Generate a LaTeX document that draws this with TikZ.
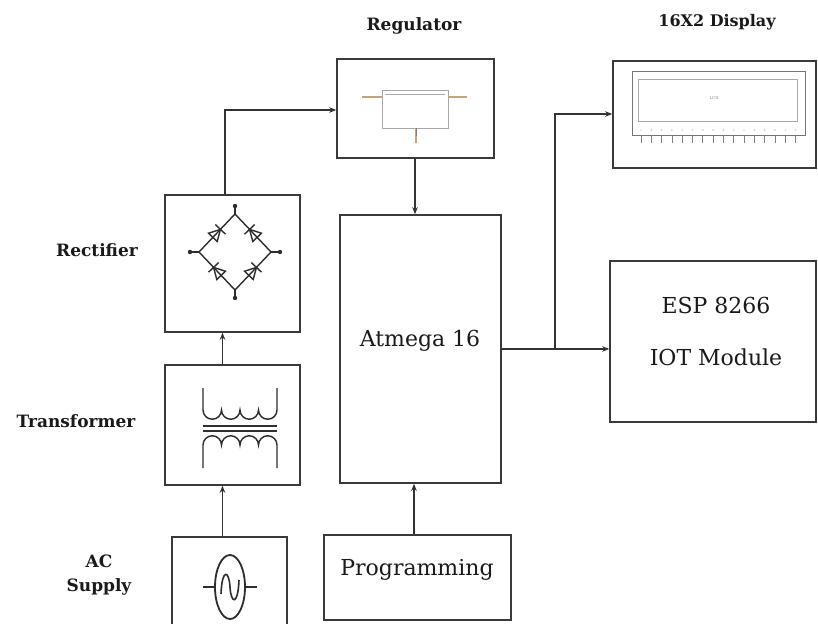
\documentclass[tikz,border=0pt]{standalone}
\usepackage{fontspec}
\setmainfont{DejaVu Serif}
\usetikzlibrary{arrows.meta,calc}
\definecolor{boxc}{HTML}{3A3A3A}
\definecolor{linec}{HTML}{333333}
\definecolor{txtc}{HTML}{1A1A1A}
\definecolor{symc}{HTML}{2E2E2E}
\definecolor{regc}{HTML}{A8A8A8}
\definecolor{leadc}{HTML}{C9A27C}
\newcommand\bdiode[2]{\begin{scope}[shift={#1},rotate=#2,x=1pt,y=1pt]
\draw[sym] (-6,6)--(5,0)--(-6,-6)--cycle; \draw[sym] (5,7)--(5,-7);
\end{scope}}
\begin{document}
\begin{tikzpicture}[x=1pt,y=-1pt,
  blk/.style={draw=boxc, line width=1.6pt, rectangle, inner sep=0pt},
  conn/.style={draw=linec, line width=1.3pt},
  arr/.style={conn, -{Stealth[length=7pt,width=5.5pt]}},
  lbl/.style={font=\fontsize{17}{24}\selectfont\bfseries, text=txtc, inner sep=0pt},
  btxt/.style={font=\fontsize{22}{26}\selectfont, text=txtc, inner sep=0pt},
  sym/.style={draw=symc, line width=1.4pt},
  dot/.style={fill=symc},
]
\useasboundingbox (0,0) rectangle (818,623);
\clip (0,0) rectangle (818,623);
\fill[white] (0,0) rectangle (818,623);

% blocks
\node[blk, minimum width=157pt, minimum height=99pt] (reg) at (415.5,108.5) {};
\node[blk, minimum width=203pt, minimum height=107pt] (disp) at (714.5,114.5) {};
\node[blk, minimum width=206pt, minimum height=161pt] (esp) at (713,341.5) {};
\node[blk, minimum width=161pt, minimum height=268pt] (atm) at (420.5,349) {};
\node[blk, minimum width=187pt, minimum height=85pt] (prog) at (417.5,577.5) {};
\node[blk, minimum width=135pt, minimum height=137pt] (rec) at (232.5,263.5) {};
\node[blk, minimum width=135pt, minimum height=120pt] (tr) at (232.5,425) {};
\node[blk, minimum width=115pt, minimum height=103pt] (ac) at (229.5,588.5) {};

% block texts
\node[btxt] (esp1) at (716,305) {ESP 8266};
\node[btxt] (esp2) at (716,357) {IOT Module};
\node[btxt] (atmt) at (420,341) {Atmega 16};
\node[btxt] (progt) at (417,570) {Programming};

% labels
\node[lbl] (lreg) at (414,26) {Regulator};
\node[lbl, font=\fontsize{16}{19}\selectfont\bfseries] (ldisp) at (717,22) {16X2 Display};
\node[lbl] (lrec) at (97,250) {Rectifier};
\node[lbl] (ltr) at (76,421) {Transformer};
\node[lbl, align=center] (lac) at (99,575) {AC\\Supply};

% connectors
\coordinate (xa) at (222.5,0);
\coordinate (k1) at (225,110);
\coordinate (k2) at (415,0);
\coordinate (k2b) at (414,0);
\coordinate (k3) at (0,349);
\coordinate (j) at (555,349);
\coordinate (k4) at (0,114);
\draw[arr] (ac.north -| xa) -- (tr.south -| xa);
\draw[arr] (tr.north -| xa) -- (rec.south -| xa);
\draw[arr] (rec.north -| k1) |- (reg.west |- k1);
\draw[arr] (reg.south -| k2) -- (atm.north -| k2);
\draw[arr] (prog.north -| k2b) -- (atm.south -| k2b);
\draw[arr] (atm.east |- k3) -- (esp.west |- k3);
\draw[arr] (j) |- (disp.west |- k4);

% rectifier bridge
\coordinate (bL) at (199,252);
\coordinate (bT) at (235,214);
\coordinate (bR) at (271,252);
\coordinate (bB) at (235,290);
\draw[sym] (bL)--(bT)--(bR)--(bB)--cycle;
\draw[sym] (bT)--(235,206) (bB)--(235,298) (bL)--(190,252) (bR)--(280,252);
\fill[dot] (235,206) circle (2.2pt) (235,298) circle (2.2pt) (190,252) circle (2.2pt) (280,252) circle (2.2pt);
\bdiode{(217,233)}{46.5}
\bdiode{(253,233)}{133.5}
\bdiode{(217,271)}{133.5}
\bdiode{(253,271)}{46.5}

% transformer
\draw[sym] (203,388) -- (203,410)
  arc[start angle=180,end angle=360,radius=9.25pt]
  arc[start angle=180,end angle=360,radius=9.25pt]
  arc[start angle=180,end angle=360,radius=9.25pt]
  arc[start angle=180,end angle=360,radius=9.25pt] -- (277,388);
\draw[sym] (203,426)--(277,426) (203,431)--(277,431);
\draw[sym] (203,468) -- (203,445)
  arc[start angle=180,end angle=0,radius=9.25pt]
  arc[start angle=180,end angle=0,radius=9.25pt]
  arc[start angle=180,end angle=0,radius=9.25pt]
  arc[start angle=180,end angle=0,radius=9.25pt] -- (277,468);

% AC source
\draw[sym, line width=1.8pt] (230,587) ellipse [x radius=15pt, y radius=32pt];
\draw[sym, line width=1.8pt] (203,587)--(215,587) (245,587)--(257,587);
\draw[sym, line width=1.6pt] (221,594) .. controls (222,568) and (229,570) .. (230,587)
  .. controls (231,604) and (238,606) .. (239,580);

% regulator symbol
\draw[regc, line width=0.8pt] (382,90) rectangle (448,128);
\draw[regc, line width=0.5pt] (385,94)--(445,94);
\draw[leadc, line width=1.2pt] (362,97)--(382,97) (448,97)--(467,97);
\draw[leadc, line width=1.4pt] (416,128)--(416,143);
\draw[gray, line width=1pt] (416,128)--(416,136);

% LCD symbol
\draw[regc!70!black, line width=0.9pt] (632,71) rectangle (805,135);
\draw[regc, line width=0.7pt] (638,79) rectangle (797,121);
\node[font=\fontsize{4}{5}\selectfont, text=gray] (lcdt) at (714,98) {LCD};
\foreach \i in {0,...,15} {
  \draw[gray, line width=0.8pt] ({641+\i*10.3},136) -- ({641+\i*10.3},143);
  \fill[regc] ({641+\i*10.3},130) circle (0.7pt);
}
\end{tikzpicture}
\end{document}
